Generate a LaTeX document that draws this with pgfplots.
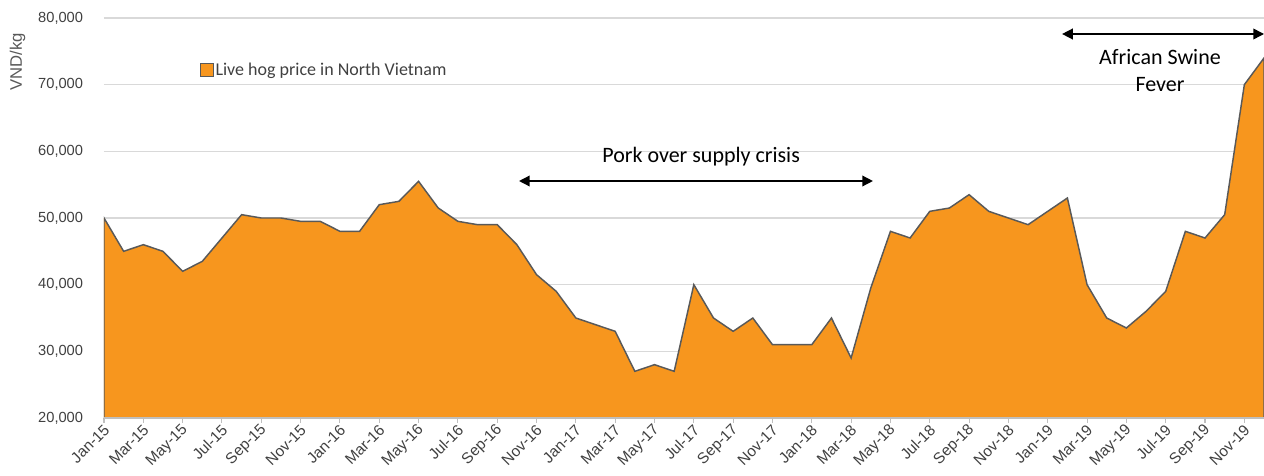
\documentclass[border=0pt]{standalone}
\usepackage{pgfplots}
\pgfplotsset{compat=1.18}
\usepackage{fontspec}
\setmainfont{Carlito}
\newfontfamily\arial{Liberation Sans}
\usetikzlibrary{arrows.meta}

\definecolor{hogorange}{HTML}{F7961E}
\definecolor{hogline}{HTML}{595959}
\definecolor{gridgray}{HTML}{D9D9D9}
\definecolor{axisgray}{HTML}{BFBFBF}
\definecolor{labelgray}{HTML}{404040}

\begin{document}
\begin{tikzpicture}
\begin{axis}[
    scale only axis,
    width=870pt, height=300pt,
    xmin=0, xmax=59,
    ymin=20000, ymax=80000,
    axis lines*=left,
    x axis line style={draw=none},
    y axis line style={draw=none},
    ytick={20000,30000,40000,50000,60000,70000,80000},
    scaled y ticks=false,
    /pgf/number format/.cd, fixed, precision=0, 1000 sep={,},
    /pgf/number format/assume math mode=true,
    /pgfplots/.cd,
    xtick={0,2,...,58},
    xticklabels={Jan-15,Mar-15,May-15,Jul-15,Sep-15,Nov-15,
                 Jan-16,Mar-16,May-16,Jul-16,Sep-16,Nov-16,
                 Jan-17,Mar-17,May-17,Jul-17,Sep-17,Nov-17,
                 Jan-18,Mar-18,May-18,Jul-18,Sep-18,Nov-18,
                 Jan-19,Mar-19,May-19,Jul-19,Sep-19,Nov-19},
    tick align=outside,
    major tick length=3.5pt,
    xtick style={draw=axisgray, line width=0.8pt},
    ytick style={draw=none},
    ymajorgrids,
    grid style={draw=gridgray, line width=0.8pt},
    ticklabel style={font=\arial\fontsize{11}{13}\selectfont, text=labelgray},
    xticklabel style={rotate=45, anchor=east, inner sep=1pt, yshift=-4pt,
                      font=\arial\fontsize{11.5}{13}\selectfont},
    yticklabel style={anchor=east, inner sep=0pt, xshift=-12pt},
    ylabel={VND/kg},
    ylabel style={at={(rel axis cs:-0.0746,0.89)}, anchor=center,
                  font=\arial\fontsize{12.5}{14}\selectfont, text=hogline},
    legend style={at={(rel axis cs:0.0828,0.87)}, anchor=west,
                  draw=none, fill=none, inner sep=0pt,
                  font=\fontsize{13.5}{15}\selectfont, text=labelgray,
                  nodes={inner sep=1.5pt}},
    legend image code/.code={\draw[fill=hogorange, draw=hogline, line width=0.7pt]
        (0pt,-4.6pt) rectangle (9.2pt,4.6pt);},
]

% monthly live hog price, Jan-15 (0) .. Dec-19 (59)
\addplot[fill=hogorange, draw=hogline, line width=1.1pt] coordinates {
(0,50000)(1,45000)(2,46000)(3,45000)(4,42000)(5,43500)
(6,47000)(7,50500)(8,50000)(9,50000)(10,49500)(11,49500)
(12,48000)(13,48000)(14,52000)(15,52500)(16,55500)(17,51500)
(18,49500)(19,49000)(20,49000)(21,46000)(22,41500)(23,39000)
(24,35000)(25,34000)(26,33000)(27,27000)(28,28000)(29,27000)
(30,40000)(31,35000)(32,33000)(33,35000)(34,31000)(35,31000)
(36,31000)(37,35000)(38,29000)(39,39500)(40,48000)(41,47000)
(42,51000)(43,51500)(44,53500)(45,51000)(46,50000)(47,49000)
(48,51000)(49,53000)(50,40000)(51,35000)(52,33500)(53,36000)
(54,39000)(55,48000)(56,47000)(57,50500)(58,70000)(59,74000)
} \closedcycle;
\addlegendentry{Live hog price in North Vietnam}

\draw[{Triangle[length=8pt,width=8pt]}-{Triangle[length=8pt,width=8pt]}, line width=1.1pt]
    (axis cs:21.11,55550) -- (axis cs:39.11,55550);
\node[anchor=base, font=\fontsize{16.5}{18}\selectfont] at (axis cs:30.37,58250)
    {Pork over supply crisis};

\draw[{Triangle[length=8pt,width=8pt]}-{Triangle[length=8pt,width=8pt]}, line width=1.1pt]
    (axis cs:48.73,77600) -- (axis cs:59,77600);
\node[anchor=base, font=\fontsize{16.5}{18}\selectfont] at (axis cs:53.71,72950)
    {African Swine};
\node[anchor=base, font=\fontsize{16.5}{18}\selectfont] at (axis cs:53.71,68900)
    {Fever};
\end{axis}
\draw[draw=axisgray, line width=1.5pt] (current axis.south west) -- (current axis.south east);
\pgfresetboundingbox
\path[use as bounding box] ([xshift=-78pt,yshift=-42.75pt]current axis.south west)
    rectangle ([yshift=13.5pt]current axis.north east);
\end{tikzpicture}
\end{document}
